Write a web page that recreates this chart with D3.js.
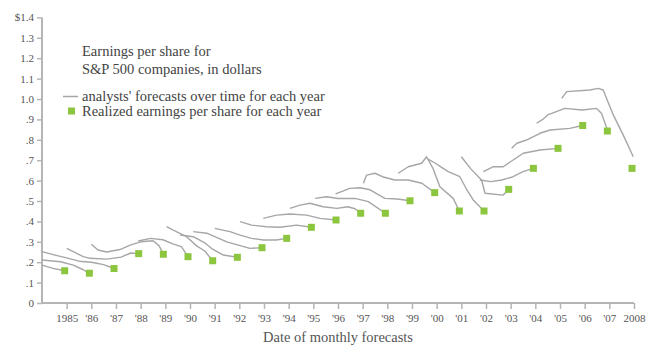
<!DOCTYPE html>
<html>
<head>
<meta charset="utf-8">
<script src="https://cdn.jsdelivr.net/npm/d3@7"></script>
<style>
  html, body { margin: 0; padding: 0; background: #fff; }
  svg { display: block; }
  text { font-family: "Liberation Serif", "DejaVu Serif", serif; }
</style>
</head>
<body>
<script>
// ---- data ----
const years = [1985,1986,1987,1988,1989,1990,1991,1992,1993,1994,1995,1996,
               1997,1998,1999,2000,2001,2002,2003,2004,2005,2006,2007,2008];
const realized = [.158,.146,.169,.242,.239,.227,.207,.224,.271,.317,.371,.407,
                  .440,.440,.501,.541,.451,.451,.557,.660,.758,.870,.843,.660];
// date of realized point, as a fraction of a year on the axis
const realizedDate = years.map(y => y - 0.08);

// analysts' forecasts for each year: [date of monthly forecast, forecast]
const f1985 = [[1984,.186],[1984.45,.170],[1984.92,.158]];
const f1986 = [[1984,.211],[1984.75,.202],[1985.27,.186],[1985.67,.163],[1985.92,.146]];
const f1987 = [[1984,.252],[1984.53,.235],[1985.0,.221],[1985.5,.205],[1986.0,.200],[1986.5,.188],[1986.92,.169]];
const f1988 = [[1985.0,.268],[1985.27,.252],[1985.67,.227],[1985.95,.219],[1986.62,.215],[1987.2,.225],[1987.6,.245],[1987.92,.242]];
const f1989 = [[1986.0,.288],[1986.27,.260],[1986.62,.250],[1987.16,.262],[1987.6,.285],[1988.0,.300],[1988.5,.305],[1988.75,.280],[1988.92,.239]];
const f1990 = [[1987.9,.304],[1988.4,.317],[1988.9,.310],[1989.3,.290],[1989.65,.276],[1989.92,.227]];
const f1991 = [[1989.05,.374],[1989.3,.358],[1989.86,.325],[1990.27,.280],[1990.6,.255],[1990.92,.207]];
const f1992 = [[1989.6,.333],[1990.13,.325],[1990.6,.295],[1990.9,.265],[1991.35,.235],[1991.92,.224]];
const f1993 = [[1990.13,.350],[1990.68,.342],[1991.1,.320],[1991.49,.300],[1991.96,.284],[1992.43,.268],[1992.92,.271]];
const f1994 = [[1991.0,.366],[1991.62,.350],[1992.03,.333],[1992.5,.317],[1992.97,.309],[1993.5,.309],[1993.92,.317]];
const f1995 = [[1992.03,.399],[1992.5,.382],[1993.1,.374],[1993.65,.371],[1994.32,.382],[1994.92,.371]];
const f1996 = [[1992.97,.415],[1993.51,.431],[1994.05,.436],[1994.73,.431],[1995.27,.415],[1995.92,.407]];
const f1997 = [[1994.05,.464],[1994.46,.480],[1994.86,.489],[1995.4,.472],[1995.95,.464],[1996.4,.472],[1996.69,.462],[1996.92,.440]];
const f1998 = [[1995.07,.513],[1995.54,.521],[1996.0,.512],[1996.69,.513],[1997.23,.497],[1997.92,.440]];
const f1999 = [[1995.9,.535],[1996.48,.562],[1996.9,.565],[1997.3,.555],[1997.9,.513],[1998.4,.510],[1998.92,.501]];
const f2000 = [[1997.03,.587],[1997.16,.627],[1997.5,.636],[1997.8,.619],[1998.3,.603],[1998.85,.603],[1999.4,.587],[1999.92,.541]];
const f2001 = [[1998.44,.636],[1998.85,.668],[1999.39,.685],[1999.59,.717],[1999.85,.660],[2000.13,.570],[2000.67,.513],[2000.92,.451]];
const f2002 = [[1999.65,.705],[1999.95,.685],[2000.2,.665],[2000.47,.644],[2000.94,.619],[2001.2,.560],[2001.48,.505],[2001.92,.451]];
const f2003 = [[2001.0,.717],[2001.4,.655],[2001.82,.603],[2001.96,.538],[2002.7,.529],[2002.92,.557]];
const f2004 = [[2001.75,.603],[2002.2,.595],[2002.64,.603],[2003.1,.619],[2003.5,.644],[2003.92,.660]];
const f2005 = [[2001.89,.644],[2002.3,.668],[2002.7,.668],[2003.1,.701],[2003.51,.734],[2004.19,.750],[2004.92,.758]];
const f2006 = [[2003.04,.758],[2003.25,.783],[2003.64,.799],[2004.19,.832],[2004.6,.848],[2005.4,.856],[2005.92,.870]];
const f2007 = [[2004.05,.881],[2004.3,.900],[2004.5,.922],[2005.2,.954],[2005.9,.946],[2006.48,.954],[2006.68,.930],[2006.9,.856]];
const f2008 = [[2005.07,1.003],[2005.27,1.036],[2006.21,1.044],[2006.55,1.052],[2006.75,1.044],[2007.16,.922],[2007.56,.824],[2007.97,.717]];
const forecasts = [f1985,f1986,f1987,f1988,f1989,f1990,f1991,f1992,f1993,f1994,f1995,f1996,
                   f1997,f1998,f1999,f2000,f2001,f2002,f2003,f2004,f2005,f2006,f2007,f2008];

const yTicks = [0,.1,.2,.3,.4,.5,.6,.7,.8,.9,1.0,1.1,1.2,1.3,1.4];
const yTickLabels = ["0",".1",".2",".3",".4",".5",".6",".7",".8",".9","1.0","1.1","1.2","1.3","$1.4"];
const xTickLabels = ["1985","'86","'87","'88","'89","'90","'91","'92","'93","'94","'95","'96",
                     "'97","'98","'99","'00","'01","'02","'03","'04","'05","'06","'07","2008"];

const titleLines = ["Earnings per share for", "S&P 500 companies, in dollars"];
const legendLabels = ["analysts' forecasts over time for each year", "Realized earnings per share for each year"];
const xTitle = "Date of monthly forecasts";

// ---- drawing ----
const W = 652, H = 346;
const lineColor = "#a6a6a6", green = "#8cc63f", axisColor = "#b5b5b5", textColor = "#555";

const svg = d3.select("body").append("svg").attr("width", W).attr("height", H);

const x = d3.scaleLinear().domain([1984, 2008]).range([42, 634]);
const y = d3.scaleLinear().domain([0, 1.4]).range([303, 17.4]);

// y axis
const yAxis = d3.axisLeft(y).tickValues(yTicks)
  .tickFormat((d, i) => yTickLabels[i]).tickSize(5).tickPadding(3);
const gy = svg.append("g").attr("transform", `translate(${x(1984)},0)`).call(yAxis);
gy.select(".domain").attr("stroke", axisColor).attr("stroke-width", 2).attr("d", `M0,${y(1.4)}V${y(0)}`);
gy.selectAll(".tick line").attr("stroke", axisColor).attr("stroke-width", 1.5);
gy.selectAll(".tick text").attr("fill", textColor).style("font-size", "11px")
  .style("font-family", "'Liberation Serif', serif");

// x axis
const xAxis = d3.axisBottom(x).tickValues(years)
  .tickFormat((d, i) => xTickLabels[i]).tickSize(6).tickPadding(5);
const gx = svg.append("g").attr("transform", `translate(0,${y(0)})`).call(xAxis);
gx.select(".domain").attr("stroke", axisColor).attr("stroke-width", 2).attr("d", `M${x(1984)},0H${x(2008)}`);
gx.selectAll(".tick line").attr("stroke", axisColor).attr("stroke-width", 1.5);
gx.selectAll(".tick text").attr("fill", textColor).style("font-size", "11px")
  .style("font-family", "'Liberation Serif', serif");

// forecast lines
const line = d3.line().x(d => x(d[0])).y(d => y(d[1]));
svg.append("g").selectAll("path").data(forecasts).join("path")
  .attr("d", line).attr("fill", "none")
  .attr("stroke", lineColor).attr("stroke-width", 1.4)
  .attr("stroke-linejoin", "round");

// realized squares
const sq = 7;
svg.append("g").selectAll("rect").data(realized).join("rect")
  .attr("x", (d, i) => x(realizedDate[i]) - sq / 2)
  .attr("y", d => y(d) - sq / 2)
  .attr("width", sq).attr("height", sq)
  .attr("fill", green);

// text block: title + legend, sized so the legend's first line spans 82..325
const textSize = 14;
const title = svg.append("g").selectAll("text").data(titleLines).join("text")
  .attr("x", 82).attr("y", (d, i) => 56 + i * 18)
  .attr("fill", "#444").style("font-size", textSize + "px").text(d => d);

svg.append("line").attr("x1", 63).attr("x2", 78).attr("y1", 96.5).attr("y2", 96.5)
  .attr("stroke", lineColor).attr("stroke-width", 1.5);
svg.append("rect").attr("x", 68).attr("y", 107.5).attr("width", sq).attr("height", sq).attr("fill", green);
const legendText = svg.append("g").selectAll("text").data(legendLabels).join("text")
  .attr("x", 82).attr("y", (d, i) => 101 + i * 14.5)
  .attr("fill", "#444").style("font-size", textSize + "px").text(d => d);

const measured = legendText.node().getComputedTextLength();
if (measured > 0) {
  const fs = textSize * 243 / measured;
  title.style("font-size", fs + "px");
  legendText.style("font-size", fs + "px");
}

// x axis title
const xt = svg.append("text").attr("x", (x(1984) + x(2008)) / 2).attr("y", 342)
  .attr("text-anchor", "middle").attr("fill", textColor)
  .style("font-size", "14px").text(xTitle);
const xtLen = xt.node().getComputedTextLength();
if (xtLen > 0) xt.style("font-size", (14 * 150 / xtLen) + "px");
</script>
</body>
</html>
